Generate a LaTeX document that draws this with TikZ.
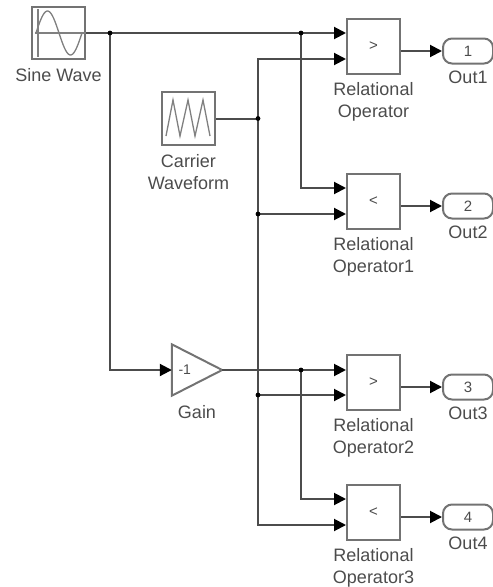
\documentclass[tikz,border=0pt]{standalone}
\usepackage{fontspec}
\setmainfont{Liberation Sans}
\usetikzlibrary{positioning,arrows.meta}

\tikzset{
	blk/.style={draw=black!55, line width=2pt, fill=white, minimum width=53pt, minimum height=53pt, inner sep=0pt, font=\fontsize{15}{17}\selectfont, text=black!70},
	relop/.style={blk, minimum height=55pt},
	outport/.style={draw=black!55, line width=2pt, rounded corners=9pt, minimum width=50pt, minimum height=25pt, inner sep=0pt, font=\fontsize{15}{17}\selectfont, text=black!70},
	lbl/.style={text=black!70, font=\fontsize{18}{22}\selectfont, align=center, inner sep=0pt},
	wire/.style={draw=black!70, line width=2pt},
	sig/.style={wire, -{Triangle[length=12pt,width=12pt,color=black]}},
	icon/.style={draw=black!50, line width=1.3pt}
}

\begin{document}
\begin{tikzpicture}[x=1pt,y=-1pt]
\useasboundingbox (0,0) rectangle (493,587);

% sources
\node[blk, minimum height=52pt] (sine) at (58.5,33) {};
\node[lbl, below=8pt of sine] (sinelbl) {Sine Wave};
\draw[icon] (38,9) -- (38,57);
\draw[icon] (35,33) -- (sine.east);
\draw[icon, smooth, domain=0:360, samples=40] plot ({36+\x/360*46}, {33-22*sin(\x)});

\node[blk] (carrier) at (188.5,118.5) {};
\node[lbl, below=8pt of carrier] (carrierlbl) {Carrier\\Waveform};
\draw[icon] (166,136) -- (173,100) -- (180,136) -- (188,100) -- (195,136) -- (203,100) -- (210,136);

% gain
\node[minimum width=50pt, minimum height=51pt, inner sep=0pt] (gain) at (197,370) {};
\draw[draw=black!55, line width=2pt] (gain.north west) -- (gain.east) -- (gain.south west) -- cycle;
\node[lbl, font=\fontsize{14}{16}\selectfont] (gainval) at ([xshift=13pt]gain.west) {-1};
\node[lbl, below=10pt of gain] (gainlbl) {Gain};

% comparators
\node[relop] (r0) at (373.5,46) {>};
\node[relop] (r1) at (373.5,201) {<};
\node[relop] (r2) at (373.5,382) {>};
\node[relop] (r3) at (373.5,512) {<};
\node[lbl, below=8pt of r0] {Relational\\Operator};
\node[lbl, below=8pt of r1] {Relational\\Operator1};
\node[lbl, below=8pt of r2] {Relational\\Operator2};
\node[lbl, below=8pt of r3] {Relational\\Operator3};

% outports
\node[outport] (o1) at (468,51) {1};
\node[outport] (o2) at (468,206) {2};
\node[outport] (o3) at (468,387) {3};
\node[outport] (o4) at (468,517) {4};
\node[lbl, below=6pt of o1] {Out1};
\node[lbl, below=6pt of o2] {Out2};
\node[lbl, below=6pt of o3] {Out3};
\node[lbl, below=6pt of o4] {Out4};

% branch points
\coordinate (j1) at (110,33);
\coordinate (j2) at (301,33);
\coordinate (j3) at (258,118.5);
\coordinate (j4) at (258,214);
\coordinate (j5) at (258,395);
\coordinate (j6) at (301,370);

% wires
\draw[sig] (sine.east) -- ([yshift=13pt]r0.west);
\draw[sig] (j2) |- ([yshift=13pt]r1.west);
\draw[sig] (j1) |- (gain.west);
\draw[sig] (carrier.east) -- (j3) |- ([yshift=-13pt]r0.west);
\draw[sig] (j3) |- ([yshift=-13pt]r3.west);
\draw[sig] (j4) -- ([yshift=-13pt]r1.west);
\draw[sig] (j5) -- ([yshift=-13pt]r2.west);
\draw[sig] (gain.east) -- ([yshift=12pt]r2.west);
\draw[sig] (j6) |- ([yshift=13pt]r3.west);
\draw[sig] ([yshift=-5pt]r0.east) -- (o1.west);
\draw[sig] ([yshift=-5pt]r1.east) -- (o2.west);
\draw[sig] ([yshift=-5pt]r2.east) -- (o3.west);
\draw[sig] ([yshift=-5pt]r3.east) -- (o4.west);

\foreach \j in {j1,j2,j3,j4,j5,j6}
	\fill (\j) circle (2.4pt);
\end{tikzpicture}
\end{document}
